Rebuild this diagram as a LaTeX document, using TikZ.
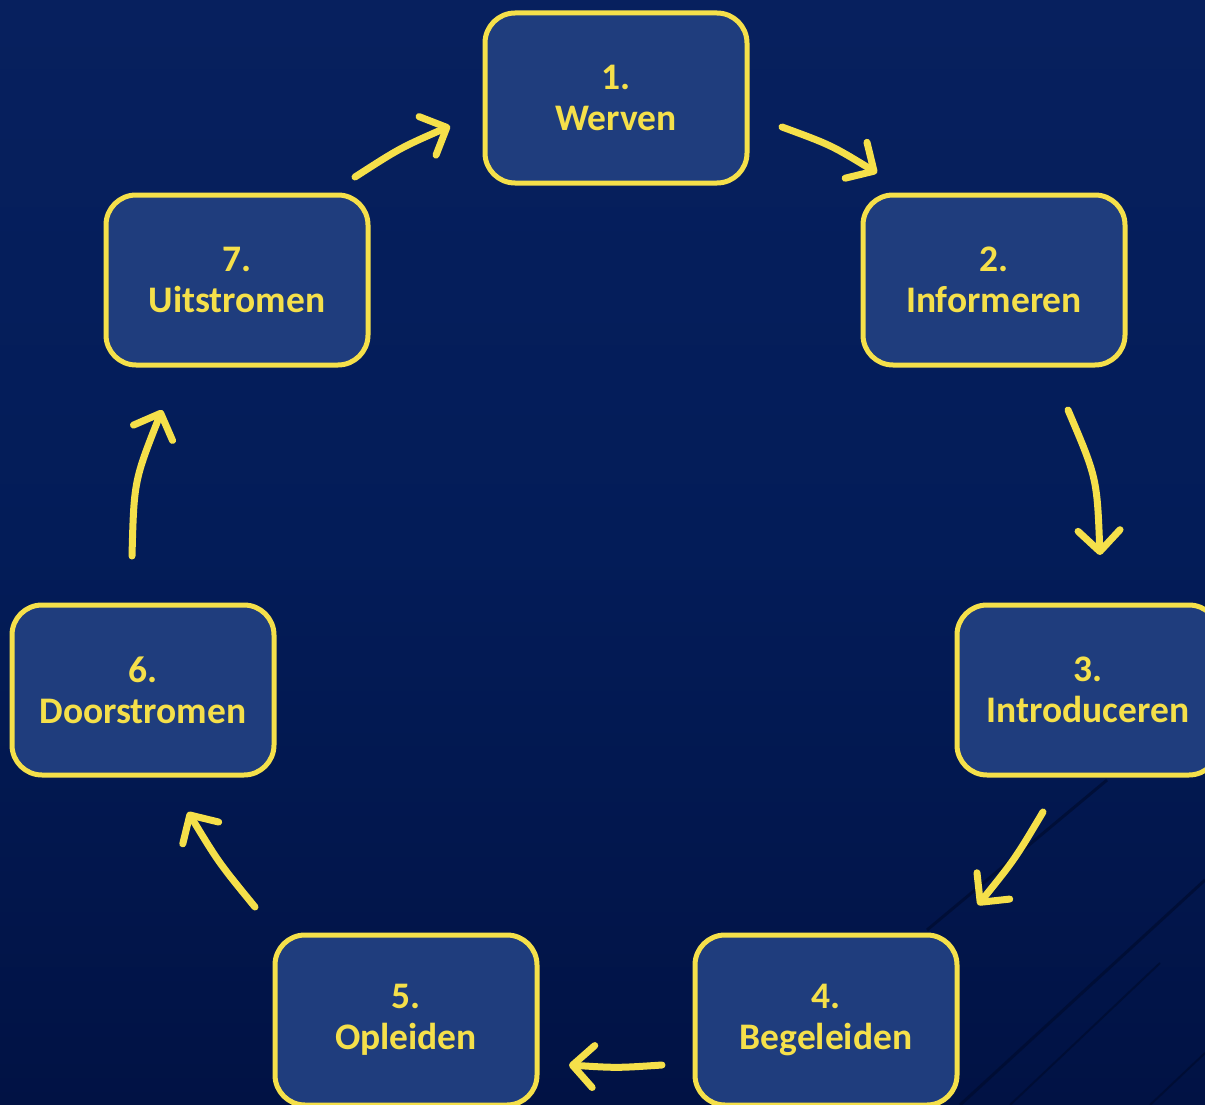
\documentclass[tikz,border=0pt]{standalone}
\usepackage{fontspec}
\setmainfont{Carlito}
\usetikzlibrary{arrows.meta}
\definecolor{bgtop}{HTML}{07205E}
\definecolor{bgmid}{HTML}{031C58}
\definecolor{bgbot}{HTML}{011244}
\definecolor{boxfill}{HTML}{1F3D7D}
\definecolor{gold}{HTML}{F5E04A}
\definecolor{stripe}{HTML}{000A2A}
\tikzset{
  stepbox/.style={draw=gold, line width=5pt, fill=boxfill, rounded corners=30pt,
    minimum width=262pt, minimum height=170pt, align=center, text=gold,
    font=\bfseries\fontsize{37.5}{41}\selectfont, inner sep=0pt},
  flow/.style={draw=gold, line width=7pt, line cap=round,
    -{Straight Barb[length=21pt,width=42pt,round]}},
  bgline/.style={draw=stripe, line width=3pt, opacity=0.6}
}
\begin{document}
\begin{tikzpicture}[x=1pt,y=-1pt]
\useasboundingbox (0,0) rectangle (1205,1105);
\shade[top color=bgtop, bottom color=bgbot, middle color=bgmid] (0,0) rectangle (1205,1105);
% faint diagonal stripes
\draw[bgline] (927,930) -- (1107,780);
\draw[bgline] (960,1105) -- (1205,880);
\draw[bgline, line width=2pt] (1010,1105) -- (1160,963);
\draw[bgline, line width=2pt] (1150,1105) -- (1205,1053);
% boxes
\node[stepbox] (n1) at (616,98)   {1.\\Werven};
\node[stepbox] (n2) at (994,280)  {2.\\Informeren};
\node[stepbox] (n3) at (1088,690) {3.\\Introduceren};
\node[stepbox] (n4) at (826,1020) {4.\\Begeleiden};
\node[stepbox] (n5) at (406,1020) {5.\\Opleiden};
\node[stepbox] (n6) at (143,690)  {6.\\Doorstromen};
\node[stepbox] (n7) at (237,280)  {7.\\Uitstromen};
% arrow ends
\coordinate (s12) at (782,127);  \coordinate (e12) at (877,173);
\coordinate (s23) at (1068,410); \coordinate (e23) at (1100,555);
\coordinate (s34) at (1043,812); \coordinate (e34) at (978,905);
\coordinate (s45) at (662,1065); \coordinate (e45) at (569,1065);
\coordinate (s56) at (255,907);  \coordinate (e56) at (188,812);
\coordinate (s67) at (132,556);  \coordinate (e67) at (162,410);
\coordinate (s71) at (355,177);  \coordinate (e71) at (450,126);
\draw[flow] (s12) .. controls (831,145) .. (e12);
\draw[flow] (s23) .. controls (1097,478) .. (e23);
\draw[flow] (s34) .. controls (1015,859) .. (e34);
\draw[flow] (s45) .. controls (617,1068) .. (e45);
\draw[flow] (s56) .. controls (219,863) .. (e56);
\draw[flow] (s67) .. controls (134,481) .. (e67);
\draw[flow] (s71) .. controls (400,148) .. (e71);
\end{tikzpicture}
\end{document}
